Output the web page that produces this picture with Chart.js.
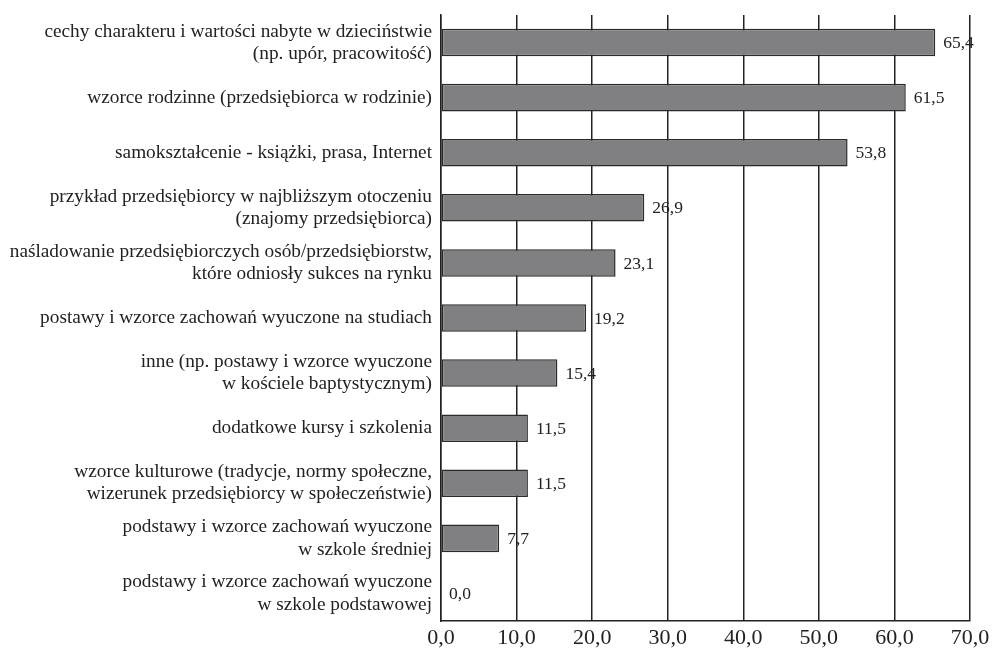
<!DOCTYPE html>
<html>
<head>
<meta charset="utf-8">
<script src="https://cdn.jsdelivr.net/npm/chart.js@4"></script>
<style>
  html, body { margin: 0; padding: 0; background: #fff; }
  #wrap { width: 994px; height: 649px; }
</style>
</head>
<body>
<div id="wrap"><canvas id="chart"></canvas></div>
<script>
const categories = [
    ['cechy charakteru i wartości nabyte w dzieciństwie', '(np. upór, pracowitość)'],
    'wzorce rodzinne (przedsiębiorca w rodzinie)',
    'samokształcenie - książki, prasa, Internet',
    ['przykład przedsiębiorcy w najbliższym otoczeniu', '(znajomy przedsiębiorca)'],
    ['naśladowanie przedsiębiorczych osób/przedsiębiorstw,', 'które odniosły sukces na rynku'],
    'postawy i wzorce zachowań wyuczone na studiach',
    ['inne (np. postawy i wzorce wyuczone', 'w kościele baptystycznym)'],
    'dodatkowe kursy i szkolenia',
    ['wzorce kulturowe (tradycje, normy społeczne,', 'wizerunek przedsiębiorcy w społeczeństwie)'],
    ['podstawy i wzorce zachowań wyuczone', 'w szkole średniej'],
    ['podstawy i wzorce zachowań wyuczone', 'w szkole podstawowej']
];
const values = [65.4, 61.5, 53.8, 26.9, 23.1, 19.2, 15.4, 11.5, 11.5, 7.7, 0.0];
const xTicks = [0, 10, 20, 30, 40, 50, 60, 70];

const fmt = v => v.toFixed(1).replace('.', ',');
const serif = '"Liberation Serif", "DejaVu Serif", serif';

// value labels to the right of each bar
const valueLabels = {
    id: 'valueLabels',
    afterDatasetsDraw(chart) {
        const ctx = chart.ctx;
        const meta = chart.getDatasetMeta(0);
        ctx.save();
        ctx.font = '17.5px ' + serif;
        ctx.fillStyle = '#222';
        ctx.textBaseline = 'middle';
        ctx.textAlign = 'left';
        meta.data.forEach((bar, i) => {
            ctx.fillText(fmt(values[i]), bar.x + 8, bar.y + 1);
        });
        ctx.restore();
    }
};

new Chart(document.getElementById('chart'), {
    type: 'bar',
    data: {
        labels: categories,
        datasets: [{
            data: values,
            backgroundColor: '#808083',
            borderColor: '#2a2a2a',
            borderWidth: 1.5,
            borderSkipped: false,
            barPercentage: 0.5,
            categoryPercentage: 1.0
        }]
    },
    options: {
        indexAxis: 'y',
        responsive: true,
        maintainAspectRatio: false,
        animation: false,
        layout: { padding: { top: 15, right: 24, left: 0, bottom: 0 } },
        plugins: {
            legend: { display: false },
            tooltip: { enabled: false }
        },
        scales: {
            x: {
                min: 0,
                max: 70,
                afterBuildTicks: scale => { scale.ticks = xTicks.map(v => ({ value: v })); },
                ticks: {
                    callback: v => fmt(v),
                    font: { family: serif, size: 22 },
                    color: '#222',
                    padding: 4,
                    maxRotation: 0
                },
                grid: { color: '#222', lineWidth: 1.5, drawTicks: false },
                border: { display: true, color: '#222', width: 1.5 },
                afterFit: scale => { scale.height = 28; }
            },
            y: {
                ticks: {
                    font: { family: serif, size: 19.3, lineHeight: 1.15 },
                    color: '#222',
                    padding: 9,
                    autoSkip: false
                },
                grid: { display: false, drawTicks: false },
                border: { display: true, color: '#222', width: 1.5 },
                afterFit: scale => {
                    scale.width = 441;
                    scale.paddingTop = 0;
                    scale.paddingBottom = 0;
                }
            }
        }
    },
    plugins: [valueLabels]
});
</script>
</body>
</html>
